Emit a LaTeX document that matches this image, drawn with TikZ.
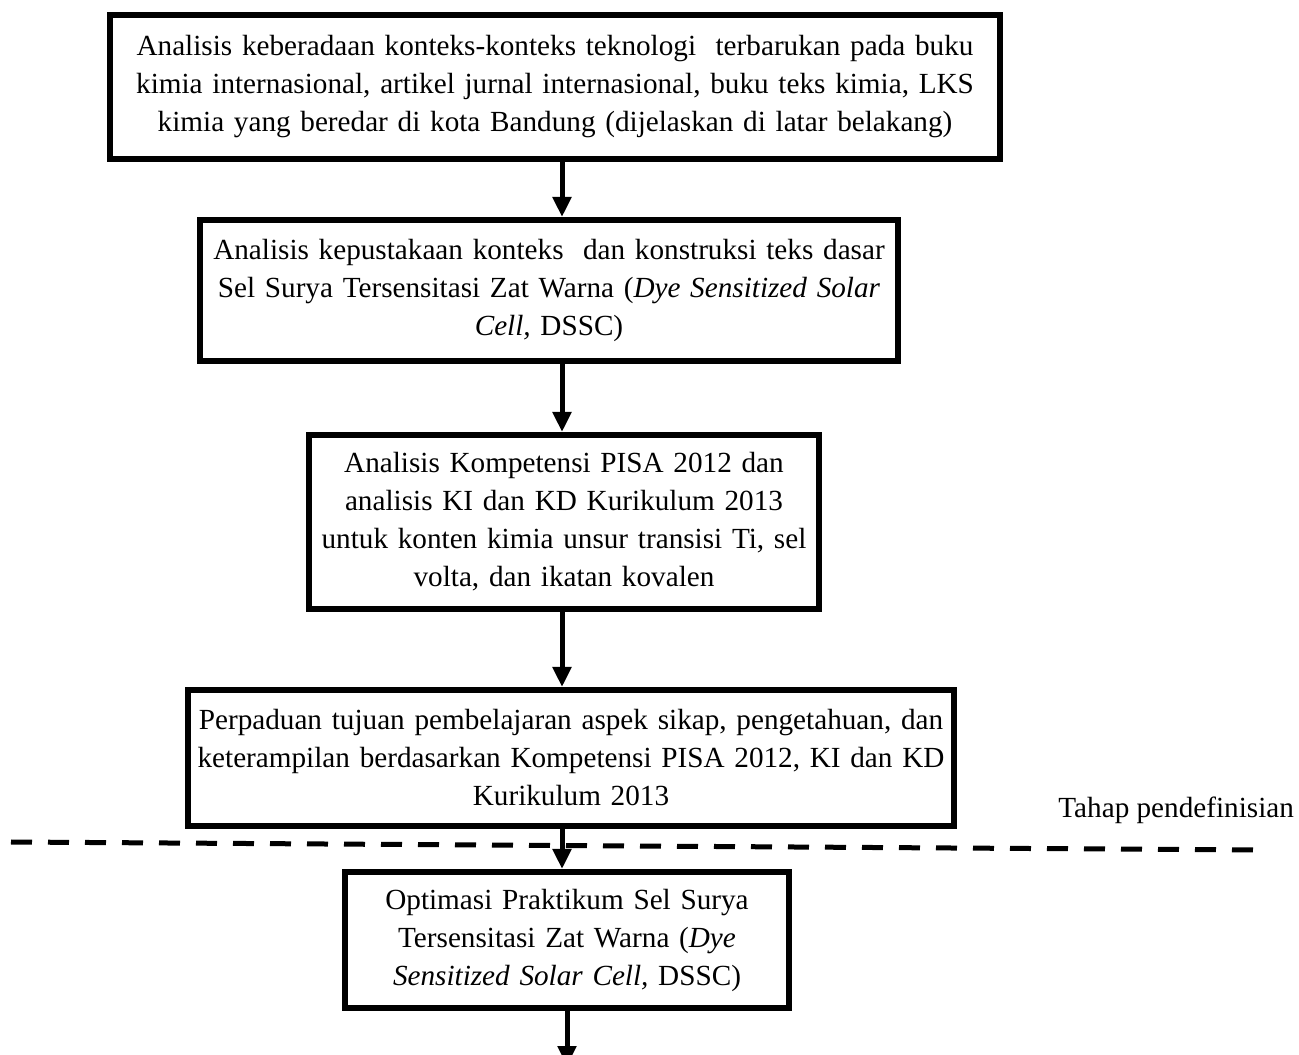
\documentclass[tikz,border=0pt]{standalone}
\usepackage{fontspec}
\setmainfont{Liberation Serif}
\usetikzlibrary{arrows.meta}

\begin{document}
\begin{tikzpicture}[x=0.5pt,y=0.5pt,>={Triangle[length=10pt,width=9pt]}, every node/.style={font=\fontsize{14.6}{19}\selectfont}]
    \tikzset{stage/.style={draw,line width=3pt,align=center,inner sep=0pt}}
    \tikzset{flow/.style={->,line width=2.5pt}}
    \tikzset{batas/.style={line width=2.5pt,dash pattern=on 10.5pt off 8pt}}
    \useasboundingbox (0,0) rectangle (1299,1054);

    % Langkah
    \node[stage,minimum width=445pt,minimum height=72pt,text width=443pt] (konteks) at (555,967)
      {Analisis keberadaan konteks-konteks teknologi~ terbarukan pada buku\\
       kimia internasional, artikel jurnal internasional, buku teks kimia, LKS\\
       kimia yang beredar di kota Bandung (dijelaskan di latar belakang)};
    \node[stage,minimum width=349pt,minimum height=70.5pt,text width=347pt] (kepustakaan) at (549,763.5)
      {Analisis kepustakaan konteks~ dan konstruksi teks dasar\\
       Sel Surya Tersensitasi Zat Warna (\textit{Dye Sensitized Solar}\\
       \textit{Cell,} DSSC)};
    \node[stage,minimum width=255pt,minimum height=87pt,text width=253pt] (kompetensi) at (564,532)
      {Analisis Kompetensi PISA 2012 dan\\
       analisis KI dan KD Kurikulum 2013\\
       untuk konten kimia unsur transisi Ti, sel\\
       volta, dan ikatan kovalen};
    \node[stage,minimum width=383pt,minimum height=68pt,text width=381pt] (tujuan) at (571,296)
      {Perpaduan tujuan pembelajaran aspek sikap, pengetahuan, dan\\
       keterampilan berdasarkan Kompetensi PISA 2012, KI dan KD\\
       Kurikulum 2013};
    \node[stage,minimum width=222pt,minimum height=68pt,text width=220pt] (optimasi) at (567,114)
      {Optimasi Praktikum Sel Surya\\
       Tersensitasi Zat Warna (\textit{Dye}\\
       \textit{Sensitized Solar Cell,} DSSC)};

    % Panah
    \coordinate (spine) at (562,0);
    \coordinate (keluar) at (567,-12);
    \draw[flow] (konteks.south -| spine) -- (kepustakaan.north -| spine);
    \draw[flow] (kepustakaan.south -| spine) -- (kompetensi.north -| spine);
    \draw[flow] (kompetensi.south -| spine) -- (tujuan.north -| spine);
    \draw[flow] (tujuan.south -| spine) -- (optimasi.north -| spine);
    \draw[flow] (optimasi.south -| keluar) -- (keluar);

    % Batas tahap
    \coordinate (batasL) at (11,212);
    \coordinate (batasR) at (1264,204);
    \draw[batas] (batasL) -- (batasR);
    \node[anchor=base west,inner sep=0pt] (tahap) at (1058,236) {Tahap pendefinisian};
\end{tikzpicture}
\end{document}
